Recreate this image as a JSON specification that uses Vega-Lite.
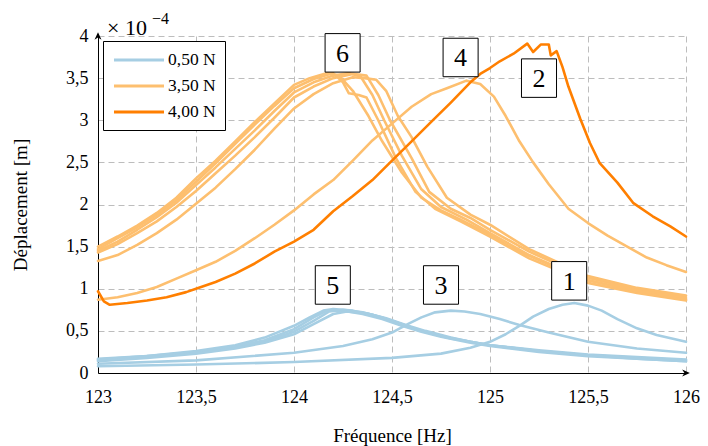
{
 "$schema": "https://vega.github.io/schema/vega-lite/v6.json",
 "width": 588, "height": 337,
 "autosize": {"type": "none"},
 "padding": {"left": 98, "top": 36, "right": 22, "bottom": 73},
 "background": "white",
 "config": {
  "view": {"stroke": null},
  "font": "Liberation Serif",
  "legend": {"orient": "top-left", "offset": 5, "padding": 9, "strokeColor": "black", "fillColor": "white", "symbolType": "M-3,0H3", "symbolSize": 278, "symbolOffset": 17, "symbolStrokeWidth": 3, "labelFont": "Liberation Serif", "labelFontSize": 17.5, "labelColor": "black", "labelOffset": 19, "rowPadding": 7, "cornerRadius": 0}
 },
 "datasets": {
  "curves": [
   {"s":"b5a","F":"0,50 N","f":123.0,"d":0.17},{"s":"b5a","F":"0,50 N","f":123.25,"d":0.20},{"s":"b5a","F":"0,50 N","f":123.5,"d":0.26},{"s":"b5a","F":"0,50 N","f":123.7,"d":0.33},{"s":"b5a","F":"0,50 N","f":123.85,"d":0.42},{"s":"b5a","F":"0,50 N","f":124.0,"d":0.56},{"s":"b5a","F":"0,50 N","f":124.08,"d":0.66},{"s":"b5a","F":"0,50 N","f":124.15,"d":0.74},{"s":"b5a","F":"0,50 N","f":124.2,"d":0.76},{"s":"b5a","F":"0,50 N","f":124.3,"d":0.74},{"s":"b5a","F":"0,50 N","f":124.4,"d":0.69},{"s":"b5a","F":"0,50 N","f":124.5,"d":0.62},{"s":"b5a","F":"0,50 N","f":124.6,"d":0.54},{"s":"b5a","F":"0,50 N","f":124.7,"d":0.47},{"s":"b5a","F":"0,50 N","f":124.8,"d":0.41},{"s":"b5a","F":"0,50 N","f":124.9,"d":0.37},{"s":"b5a","F":"0,50 N","f":125.0,"d":0.33},{"s":"b5a","F":"0,50 N","f":125.25,"d":0.27},{"s":"b5a","F":"0,50 N","f":125.5,"d":0.22},{"s":"b5a","F":"0,50 N","f":125.75,"d":0.19},{"s":"b5a","F":"0,50 N","f":126.0,"d":0.16},
   {"s":"b5b","F":"0,50 N","f":123.0,"d":0.15},{"s":"b5b","F":"0,50 N","f":123.25,"d":0.19},{"s":"b5b","F":"0,50 N","f":123.5,"d":0.24},{"s":"b5b","F":"0,50 N","f":123.7,"d":0.30},{"s":"b5b","F":"0,50 N","f":123.85,"d":0.37},{"s":"b5b","F":"0,50 N","f":124.0,"d":0.49},{"s":"b5b","F":"0,50 N","f":124.1,"d":0.62},{"s":"b5b","F":"0,50 N","f":124.18,"d":0.73},{"s":"b5b","F":"0,50 N","f":124.25,"d":0.75},{"s":"b5b","F":"0,50 N","f":124.35,"d":0.72},{"s":"b5b","F":"0,50 N","f":124.45,"d":0.66},{"s":"b5b","F":"0,50 N","f":124.55,"d":0.58},{"s":"b5b","F":"0,50 N","f":124.65,"d":0.50},{"s":"b5b","F":"0,50 N","f":124.75,"d":0.44},{"s":"b5b","F":"0,50 N","f":124.9,"d":0.37},{"s":"b5b","F":"0,50 N","f":125.0,"d":0.33},{"s":"b5b","F":"0,50 N","f":125.25,"d":0.26},{"s":"b5b","F":"0,50 N","f":125.5,"d":0.21},{"s":"b5b","F":"0,50 N","f":125.75,"d":0.18},{"s":"b5b","F":"0,50 N","f":126.0,"d":0.15},
   {"s":"b5c","F":"0,50 N","f":123.0,"d":0.16},{"s":"b5c","F":"0,50 N","f":123.25,"d":0.20},{"s":"b5c","F":"0,50 N","f":123.5,"d":0.25},{"s":"b5c","F":"0,50 N","f":123.7,"d":0.31},{"s":"b5c","F":"0,50 N","f":123.85,"d":0.39},{"s":"b5c","F":"0,50 N","f":124.0,"d":0.52},{"s":"b5c","F":"0,50 N","f":124.1,"d":0.66},{"s":"b5c","F":"0,50 N","f":124.17,"d":0.74},{"s":"b5c","F":"0,50 N","f":124.25,"d":0.74},{"s":"b5c","F":"0,50 N","f":124.35,"d":0.70},{"s":"b5c","F":"0,50 N","f":124.45,"d":0.64},{"s":"b5c","F":"0,50 N","f":124.55,"d":0.56},{"s":"b5c","F":"0,50 N","f":124.65,"d":0.49},{"s":"b5c","F":"0,50 N","f":124.75,"d":0.43},{"s":"b5c","F":"0,50 N","f":124.9,"d":0.36},{"s":"b5c","F":"0,50 N","f":125.0,"d":0.32},{"s":"b5c","F":"0,50 N","f":125.25,"d":0.25},{"s":"b5c","F":"0,50 N","f":125.5,"d":0.20},{"s":"b5c","F":"0,50 N","f":125.75,"d":0.17},{"s":"b5c","F":"0,50 N","f":126.0,"d":0.14},
   {"s":"b5d","F":"0,50 N","f":123.0,"d":0.14},{"s":"b5d","F":"0,50 N","f":123.25,"d":0.18},{"s":"b5d","F":"0,50 N","f":123.5,"d":0.23},{"s":"b5d","F":"0,50 N","f":123.7,"d":0.29},{"s":"b5d","F":"0,50 N","f":123.85,"d":0.36},{"s":"b5d","F":"0,50 N","f":124.0,"d":0.46},{"s":"b5d","F":"0,50 N","f":124.1,"d":0.58},{"s":"b5d","F":"0,50 N","f":124.2,"d":0.70},{"s":"b5d","F":"0,50 N","f":124.27,"d":0.73},{"s":"b5d","F":"0,50 N","f":124.37,"d":0.71},{"s":"b5d","F":"0,50 N","f":124.47,"d":0.65},{"s":"b5d","F":"0,50 N","f":124.57,"d":0.57},{"s":"b5d","F":"0,50 N","f":124.67,"d":0.50},{"s":"b5d","F":"0,50 N","f":124.8,"d":0.42},{"s":"b5d","F":"0,50 N","f":124.9,"d":0.37},{"s":"b5d","F":"0,50 N","f":125.0,"d":0.33},{"s":"b5d","F":"0,50 N","f":125.25,"d":0.26},{"s":"b5d","F":"0,50 N","f":125.5,"d":0.21},{"s":"b5d","F":"0,50 N","f":125.75,"d":0.17},{"s":"b5d","F":"0,50 N","f":126.0,"d":0.14},
   {"s":"b3","F":"0,50 N","f":123.0,"d":0.11},{"s":"b3","F":"0,50 N","f":123.5,"d":0.15},{"s":"b3","F":"0,50 N","f":124.0,"d":0.24},{"s":"b3","F":"0,50 N","f":124.25,"d":0.32},{"s":"b3","F":"0,50 N","f":124.4,"d":0.40},{"s":"b3","F":"0,50 N","f":124.5,"d":0.48},{"s":"b3","F":"0,50 N","f":124.58,"d":0.58},{"s":"b3","F":"0,50 N","f":124.65,"d":0.66},{"s":"b3","F":"0,50 N","f":124.72,"d":0.72},{"s":"b3","F":"0,50 N","f":124.8,"d":0.74},{"s":"b3","F":"0,50 N","f":124.87,"d":0.73},{"s":"b3","F":"0,50 N","f":124.95,"d":0.70},{"s":"b3","F":"0,50 N","f":125.05,"d":0.64},{"s":"b3","F":"0,50 N","f":125.15,"d":0.57},{"s":"b3","F":"0,50 N","f":125.3,"d":0.48},{"s":"b3","F":"0,50 N","f":125.5,"d":0.37},{"s":"b3","F":"0,50 N","f":125.75,"d":0.29},{"s":"b3","F":"0,50 N","f":126.0,"d":0.24},
   {"s":"b1","F":"0,50 N","f":123.0,"d":0.08},{"s":"b1","F":"0,50 N","f":123.5,"d":0.10},{"s":"b1","F":"0,50 N","f":124.0,"d":0.13},{"s":"b1","F":"0,50 N","f":124.5,"d":0.18},{"s":"b1","F":"0,50 N","f":124.75,"d":0.23},{"s":"b1","F":"0,50 N","f":124.9,"d":0.30},{"s":"b1","F":"0,50 N","f":125.0,"d":0.37},{"s":"b1","F":"0,50 N","f":125.08,"d":0.46},{"s":"b1","F":"0,50 N","f":125.15,"d":0.56},{"s":"b1","F":"0,50 N","f":125.22,"d":0.67},{"s":"b1","F":"0,50 N","f":125.3,"d":0.76},{"s":"b1","F":"0,50 N","f":125.37,"d":0.81},{"s":"b1","F":"0,50 N","f":125.43,"d":0.83},{"s":"b1","F":"0,50 N","f":125.5,"d":0.80},{"s":"b1","F":"0,50 N","f":125.57,"d":0.74},{"s":"b1","F":"0,50 N","f":125.65,"d":0.64},{"s":"b1","F":"0,50 N","f":125.75,"d":0.53},{"s":"b1","F":"0,50 N","f":125.85,"d":0.45},{"s":"b1","F":"0,50 N","f":126.0,"d":0.37},
   {"s":"o6a","F":"3,50 N","f":123.0,"d":1.50},{"s":"o6a","F":"3,50 N","f":123.1,"d":1.62},{"s":"o6a","F":"3,50 N","f":123.2,"d":1.75},{"s":"o6a","F":"3,50 N","f":123.3,"d":1.90},{"s":"o6a","F":"3,50 N","f":123.4,"d":2.08},{"s":"o6a","F":"3,50 N","f":123.5,"d":2.31},{"s":"o6a","F":"3,50 N","f":123.6,"d":2.52},{"s":"o6a","F":"3,50 N","f":123.7,"d":2.75},{"s":"o6a","F":"3,50 N","f":123.8,"d":2.98},{"s":"o6a","F":"3,50 N","f":123.9,"d":3.20},{"s":"o6a","F":"3,50 N","f":124.0,"d":3.42},{"s":"o6a","F":"3,50 N","f":124.08,"d":3.50},{"s":"o6a","F":"3,50 N","f":124.17,"d":3.56},{"s":"o6a","F":"3,50 N","f":124.23,"d":3.53},{"s":"o6a","F":"3,50 N","f":124.3,"d":3.35},{"s":"o6a","F":"3,50 N","f":124.38,"d":3.05},{"s":"o6a","F":"3,50 N","f":124.45,"d":2.75},{"s":"o6a","F":"3,50 N","f":124.55,"d":2.38},{"s":"o6a","F":"3,50 N","f":124.65,"d":2.08},{"s":"o6a","F":"3,50 N","f":124.75,"d":1.93},{"s":"o6a","F":"3,50 N","f":124.85,"d":1.82},{"s":"o6a","F":"3,50 N","f":125.0,"d":1.64},{"s":"o6a","F":"3,50 N","f":125.1,"d":1.50},{"s":"o6a","F":"3,50 N","f":125.2,"d":1.39},{"s":"o6a","F":"3,50 N","f":125.35,"d":1.24},{"s":"o6a","F":"3,50 N","f":125.5,"d":1.10},{"s":"o6a","F":"3,50 N","f":125.75,"d":0.97},{"s":"o6a","F":"3,50 N","f":126.0,"d":0.87},
   {"s":"o6b","F":"3,50 N","f":123.0,"d":1.47},{"s":"o6b","F":"3,50 N","f":123.1,"d":1.60},{"s":"o6b","F":"3,50 N","f":123.2,"d":1.73},{"s":"o6b","F":"3,50 N","f":123.3,"d":1.88},{"s":"o6b","F":"3,50 N","f":123.4,"d":2.05},{"s":"o6b","F":"3,50 N","f":123.5,"d":2.27},{"s":"o6b","F":"3,50 N","f":123.6,"d":2.49},{"s":"o6b","F":"3,50 N","f":123.7,"d":2.72},{"s":"o6b","F":"3,50 N","f":123.8,"d":2.95},{"s":"o6b","F":"3,50 N","f":123.9,"d":3.17},{"s":"o6b","F":"3,50 N","f":124.0,"d":3.38},{"s":"o6b","F":"3,50 N","f":124.1,"d":3.49},{"s":"o6b","F":"3,50 N","f":124.2,"d":3.56},{"s":"o6b","F":"3,50 N","f":124.25,"d":3.45},{"s":"o6b","F":"3,50 N","f":124.28,"d":3.32},{"s":"o6b","F":"3,50 N","f":124.33,"d":3.30},{"s":"o6b","F":"3,50 N","f":124.37,"d":3.27},{"s":"o6b","F":"3,50 N","f":124.43,"d":3.00},{"s":"o6b","F":"3,50 N","f":124.52,"d":2.55},{"s":"o6b","F":"3,50 N","f":124.62,"d":2.15},{"s":"o6b","F":"3,50 N","f":124.72,"d":1.95},{"s":"o6b","F":"3,50 N","f":124.85,"d":1.80},{"s":"o6b","F":"3,50 N","f":125.0,"d":1.62},{"s":"o6b","F":"3,50 N","f":125.2,"d":1.36},{"s":"o6b","F":"3,50 N","f":125.5,"d":1.07},{"s":"o6b","F":"3,50 N","f":125.75,"d":0.95},{"s":"o6b","F":"3,50 N","f":126.0,"d":0.86},
   {"s":"o6c","F":"3,50 N","f":123.0,"d":1.45},{"s":"o6c","F":"3,50 N","f":123.1,"d":1.56},{"s":"o6c","F":"3,50 N","f":123.2,"d":1.70},{"s":"o6c","F":"3,50 N","f":123.3,"d":1.85},{"s":"o6c","F":"3,50 N","f":123.4,"d":2.02},{"s":"o6c","F":"3,50 N","f":123.5,"d":2.23},{"s":"o6c","F":"3,50 N","f":123.6,"d":2.44},{"s":"o6c","F":"3,50 N","f":123.7,"d":2.66},{"s":"o6c","F":"3,50 N","f":123.8,"d":2.88},{"s":"o6c","F":"3,50 N","f":123.9,"d":3.11},{"s":"o6c","F":"3,50 N","f":124.0,"d":3.33},{"s":"o6c","F":"3,50 N","f":124.1,"d":3.45},{"s":"o6c","F":"3,50 N","f":124.2,"d":3.53},{"s":"o6c","F":"3,50 N","f":124.28,"d":3.56},{"s":"o6c","F":"3,50 N","f":124.34,"d":3.52},{"s":"o6c","F":"3,50 N","f":124.4,"d":3.30},{"s":"o6c","F":"3,50 N","f":124.46,"d":3.00},{"s":"o6c","F":"3,50 N","f":124.55,"d":2.58},{"s":"o6c","F":"3,50 N","f":124.65,"d":2.18},{"s":"o6c","F":"3,50 N","f":124.75,"d":1.97},{"s":"o6c","F":"3,50 N","f":124.88,"d":1.82},{"s":"o6c","F":"3,50 N","f":125.0,"d":1.66},{"s":"o6c","F":"3,50 N","f":125.2,"d":1.40},{"s":"o6c","F":"3,50 N","f":125.5,"d":1.10},{"s":"o6c","F":"3,50 N","f":125.75,"d":0.97},{"s":"o6c","F":"3,50 N","f":126.0,"d":0.88},
   {"s":"o6d","F":"3,50 N","f":123.0,"d":1.43},{"s":"o6d","F":"3,50 N","f":123.1,"d":1.53},{"s":"o6d","F":"3,50 N","f":123.2,"d":1.66},{"s":"o6d","F":"3,50 N","f":123.3,"d":1.80},{"s":"o6d","F":"3,50 N","f":123.4,"d":1.97},{"s":"o6d","F":"3,50 N","f":123.5,"d":2.16},{"s":"o6d","F":"3,50 N","f":123.6,"d":2.37},{"s":"o6d","F":"3,50 N","f":123.7,"d":2.58},{"s":"o6d","F":"3,50 N","f":123.8,"d":2.80},{"s":"o6d","F":"3,50 N","f":123.9,"d":3.03},{"s":"o6d","F":"3,50 N","f":124.0,"d":3.27},{"s":"o6d","F":"3,50 N","f":124.1,"d":3.40},{"s":"o6d","F":"3,50 N","f":124.2,"d":3.50},{"s":"o6d","F":"3,50 N","f":124.3,"d":3.55},{"s":"o6d","F":"3,50 N","f":124.37,"d":3.53},{"s":"o6d","F":"3,50 N","f":124.43,"d":3.30},{"s":"o6d","F":"3,50 N","f":124.49,"d":3.00},{"s":"o6d","F":"3,50 N","f":124.6,"d":2.55},{"s":"o6d","F":"3,50 N","f":124.69,"d":2.15},{"s":"o6d","F":"3,50 N","f":124.8,"d":1.95},{"s":"o6d","F":"3,50 N","f":124.9,"d":1.84},{"s":"o6d","F":"3,50 N","f":125.0,"d":1.70},{"s":"o6d","F":"3,50 N","f":125.2,"d":1.44},{"s":"o6d","F":"3,50 N","f":125.5,"d":1.13},{"s":"o6d","F":"3,50 N","f":125.75,"d":0.99},{"s":"o6d","F":"3,50 N","f":126.0,"d":0.90},
   {"s":"o6e","F":"3,50 N","f":123.0,"d":1.33},{"s":"o6e","F":"3,50 N","f":123.1,"d":1.40},{"s":"o6e","F":"3,50 N","f":123.2,"d":1.52},{"s":"o6e","F":"3,50 N","f":123.3,"d":1.66},{"s":"o6e","F":"3,50 N","f":123.4,"d":1.82},{"s":"o6e","F":"3,50 N","f":123.5,"d":2.01},{"s":"o6e","F":"3,50 N","f":123.6,"d":2.20},{"s":"o6e","F":"3,50 N","f":123.7,"d":2.42},{"s":"o6e","F":"3,50 N","f":123.8,"d":2.65},{"s":"o6e","F":"3,50 N","f":123.9,"d":2.90},{"s":"o6e","F":"3,50 N","f":124.0,"d":3.14},{"s":"o6e","F":"3,50 N","f":124.1,"d":3.31},{"s":"o6e","F":"3,50 N","f":124.2,"d":3.44},{"s":"o6e","F":"3,50 N","f":124.3,"d":3.51},{"s":"o6e","F":"3,50 N","f":124.36,"d":3.50},{"s":"o6e","F":"3,50 N","f":124.42,"d":3.48},{"s":"o6e","F":"3,50 N","f":124.47,"d":3.35},{"s":"o6e","F":"3,50 N","f":124.53,"d":3.05},{"s":"o6e","F":"3,50 N","f":124.6,"d":2.80},{"s":"o6e","F":"3,50 N","f":124.68,"d":2.45},{"s":"o6e","F":"3,50 N","f":124.78,"d":2.08},{"s":"o6e","F":"3,50 N","f":124.9,"d":1.88},{"s":"o6e","F":"3,50 N","f":125.0,"d":1.76},{"s":"o6e","F":"3,50 N","f":125.2,"d":1.47},{"s":"o6e","F":"3,50 N","f":125.5,"d":1.15},{"s":"o6e","F":"3,50 N","f":125.75,"d":1.01},{"s":"o6e","F":"3,50 N","f":126.0,"d":0.92},
   {"s":"o4","F":"3,50 N","f":123.0,"d":0.87},{"s":"o4","F":"3,50 N","f":123.1,"d":0.90},{"s":"o4","F":"3,50 N","f":123.2,"d":0.95},{"s":"o4","F":"3,50 N","f":123.3,"d":1.02},{"s":"o4","F":"3,50 N","f":123.4,"d":1.12},{"s":"o4","F":"3,50 N","f":123.5,"d":1.22},{"s":"o4","F":"3,50 N","f":123.6,"d":1.32},{"s":"o4","F":"3,50 N","f":123.7,"d":1.45},{"s":"o4","F":"3,50 N","f":123.8,"d":1.60},{"s":"o4","F":"3,50 N","f":123.9,"d":1.76},{"s":"o4","F":"3,50 N","f":124.0,"d":1.93},{"s":"o4","F":"3,50 N","f":124.1,"d":2.12},{"s":"o4","F":"3,50 N","f":124.2,"d":2.29},{"s":"o4","F":"3,50 N","f":124.3,"d":2.52},{"s":"o4","F":"3,50 N","f":124.4,"d":2.76},{"s":"o4","F":"3,50 N","f":124.5,"d":2.96},{"s":"o4","F":"3,50 N","f":124.6,"d":3.16},{"s":"o4","F":"3,50 N","f":124.7,"d":3.31},{"s":"o4","F":"3,50 N","f":124.78,"d":3.38},{"s":"o4","F":"3,50 N","f":124.88,"d":3.47},{"s":"o4","F":"3,50 N","f":124.95,"d":3.43},{"s":"o4","F":"3,50 N","f":125.02,"d":3.28},{"s":"o4","F":"3,50 N","f":125.08,"d":3.05},{"s":"o4","F":"3,50 N","f":125.15,"d":2.75},{"s":"o4","F":"3,50 N","f":125.22,"d":2.50},{"s":"o4","F":"3,50 N","f":125.3,"d":2.24},{"s":"o4","F":"3,50 N","f":125.4,"d":1.95},{"s":"o4","F":"3,50 N","f":125.5,"d":1.78},{"s":"o4","F":"3,50 N","f":125.6,"d":1.63},{"s":"o4","F":"3,50 N","f":125.7,"d":1.50},{"s":"o4","F":"3,50 N","f":125.8,"d":1.37},{"s":"o4","F":"3,50 N","f":125.9,"d":1.28},{"s":"o4","F":"3,50 N","f":126.0,"d":1.20},
   {"s":"d2","F":"4,00 N","f":123.0,"d":0.97},{"s":"d2","F":"4,00 N","f":123.03,"d":0.85},{"s":"d2","F":"4,00 N","f":123.06,"d":0.81},{"s":"d2","F":"4,00 N","f":123.15,"d":0.83},{"s":"d2","F":"4,00 N","f":123.25,"d":0.86},{"s":"d2","F":"4,00 N","f":123.35,"d":0.90},{"s":"d2","F":"4,00 N","f":123.45,"d":0.96},{"s":"d2","F":"4,00 N","f":123.5,"d":1.00},{"s":"d2","F":"4,00 N","f":123.6,"d":1.08},{"s":"d2","F":"4,00 N","f":123.7,"d":1.18},{"s":"d2","F":"4,00 N","f":123.8,"d":1.30},{"s":"d2","F":"4,00 N","f":123.9,"d":1.44},{"s":"d2","F":"4,00 N","f":124.0,"d":1.56},{"s":"d2","F":"4,00 N","f":124.1,"d":1.70},{"s":"d2","F":"4,00 N","f":124.2,"d":1.92},{"s":"d2","F":"4,00 N","f":124.3,"d":2.10},{"s":"d2","F":"4,00 N","f":124.4,"d":2.29},{"s":"d2","F":"4,00 N","f":124.5,"d":2.52},{"s":"d2","F":"4,00 N","f":124.6,"d":2.75},{"s":"d2","F":"4,00 N","f":124.7,"d":2.98},{"s":"d2","F":"4,00 N","f":124.8,"d":3.21},{"s":"d2","F":"4,00 N","f":124.9,"d":3.45},{"s":"d2","F":"4,00 N","f":124.95,"d":3.55},{"s":"d2","F":"4,00 N","f":125.0,"d":3.62},{"s":"d2","F":"4,00 N","f":125.05,"d":3.70},{"s":"d2","F":"4,00 N","f":125.12,"d":3.79},{"s":"d2","F":"4,00 N","f":125.19,"d":3.91},{"s":"d2","F":"4,00 N","f":125.22,"d":3.81},{"s":"d2","F":"4,00 N","f":125.26,"d":3.90},{"s":"d2","F":"4,00 N","f":125.3,"d":3.90},{"s":"d2","F":"4,00 N","f":125.31,"d":3.77},{"s":"d2","F":"4,00 N","f":125.34,"d":3.82},{"s":"d2","F":"4,00 N","f":125.37,"d":3.63},{"s":"d2","F":"4,00 N","f":125.4,"d":3.40},{"s":"d2","F":"4,00 N","f":125.46,"d":3.02},{"s":"d2","F":"4,00 N","f":125.51,"d":2.73},{"s":"d2","F":"4,00 N","f":125.56,"d":2.49},{"s":"d2","F":"4,00 N","f":125.65,"d":2.26},{"s":"d2","F":"4,00 N","f":125.73,"d":2.02},{"s":"d2","F":"4,00 N","f":125.83,"d":1.86},{"s":"d2","F":"4,00 N","f":125.92,"d":1.74},{"s":"d2","F":"4,00 N","f":126.0,"d":1.62}
  ],
  "labels": [
   {"n":"6","f":124.248,"d":3.80},
   {"n":"4","f":124.85,"d":3.745},
   {"n":"2","f":125.25,"d":3.50},
   {"n":"5","f":124.198,"d":1.045},
   {"n":"3","f":124.75,"d":1.045},
   {"n":"1","f":125.404,"d":1.094}
  ],
  "arrows": [
   {"f":126,"d":0,"shape":"M-1,-0.9L1,0L-1,0.9L-0.4,0Z"},
   {"f":123,"d":4,"shape":"M-0.9,1L0,-1L0.9,1L0,0.4Z"}
  ],
  "corner": [{"f":123,"d":4}]
 },
 "layer": [
  {
   "data": {"name": "curves"},
   "mark": {"type": "line", "strokeWidth": 2.6, "strokeJoin": "round", "strokeCap": "round"},
   "encoding": {
    "x": {"field": "f", "type": "quantitative",
     "scale": {"domain": [123, 126], "nice": false, "zero": false},
     "axis": {"title": "Fréquence [Hz]", "values": [123, 123.5, 124, 124.5, 125, 125.5, 126],
      "labelExpr": "replace(format(datum.value, '~g'), '.', ',')",
      "labelFont": "Liberation Serif", "labelFontSize": 18, "labelColor": "black", "labelPadding": 15,
      "titleFont": "Liberation Serif", "titleFontSize": 19, "titleFontWeight": "normal", "titleColor": "black", "titlePadding": 20,
      "ticks": false, "domainColor": "black", "domainWidth": 1,
      "grid": true, "gridDash": [6, 4], "gridColor": "#bdbdbd", "gridWidth": 1, "labelFlush": false}},
    "y": {"field": "d", "type": "quantitative",
     "scale": {"domain": [0, 4], "nice": false},
     "axis": {"title": "Déplacement [m]", "values": [0, 0.5, 1, 1.5, 2, 2.5, 3, 3.5, 4],
      "labelExpr": "replace(format(datum.value, '~g'), '.', ',')",
      "labelFont": "Liberation Serif", "labelFontSize": 18, "labelColor": "black", "labelPadding": 10,
      "titleFont": "Liberation Serif", "titleFontSize": 19, "titleFontWeight": "normal", "titleColor": "black", "titlePadding": 35,
      "ticks": false, "domainColor": "black", "domainWidth": 1,
      "grid": true, "gridDash": [6, 4], "gridColor": "#bdbdbd", "gridWidth": 1, "labelFlush": false}},
    "color": {"field": "F", "type": "nominal",
     "scale": {"domain": ["0,50 N", "3,50 N", "4,00 N"], "range": ["#a6cee3", "#fdbf6f", "#ff7f00"]},
     "legend": {"title": null}},
    "detail": {"field": "s"},
    "order": {"field": "f"}
   }
  },
  {
   "data": {"name": "labels"},
   "mark": {"type": "point", "shape": "M-0.91,-1H0.91V1H-0.91Z", "size": 1482, "filled": true, "fill": "white", "stroke": "black", "strokeWidth": 1, "opacity": 1},
   "encoding": {"x": {"field": "f", "type": "quantitative"}, "y": {"field": "d", "type": "quantitative"}}
  },
  {
   "data": {"name": "labels"},
   "mark": {"type": "text", "font": "Liberation Serif", "fontSize": 26, "baseline": "middle", "align": "center", "color": "black", "dy": 1},
   "encoding": {"x": {"field": "f", "type": "quantitative"}, "y": {"field": "d", "type": "quantitative"}, "text": {"field": "n"}}
  },
  {
   "data": {"name": "arrows"},
   "mark": {"type": "point", "filled": true, "color": "black", "size": 60, "opacity": 1, "clip": false},
   "encoding": {"x": {"field": "f", "type": "quantitative"}, "y": {"field": "d", "type": "quantitative"}, "shape": {"field": "shape", "type": "nominal", "scale": null}}
  },
  {
   "data": {"name": "corner"},
   "mark": {"type": "text", "text": "× 10", "font": "Liberation Serif", "fontSize": 22, "align": "left", "baseline": "alphabetic", "color": "black", "dx": 9, "dy": -1, "clip": false},
   "encoding": {"x": {"field": "f", "type": "quantitative"}, "y": {"field": "d", "type": "quantitative"}}
  },
  {
   "data": {"name": "corner"},
   "mark": {"type": "text", "text": "−4", "font": "Liberation Serif", "fontSize": 16, "align": "left", "baseline": "alphabetic", "color": "black", "dx": 54, "dy": -12, "clip": false},
   "encoding": {"x": {"field": "f", "type": "quantitative"}, "y": {"field": "d", "type": "quantitative"}}
  }
 ]
}
